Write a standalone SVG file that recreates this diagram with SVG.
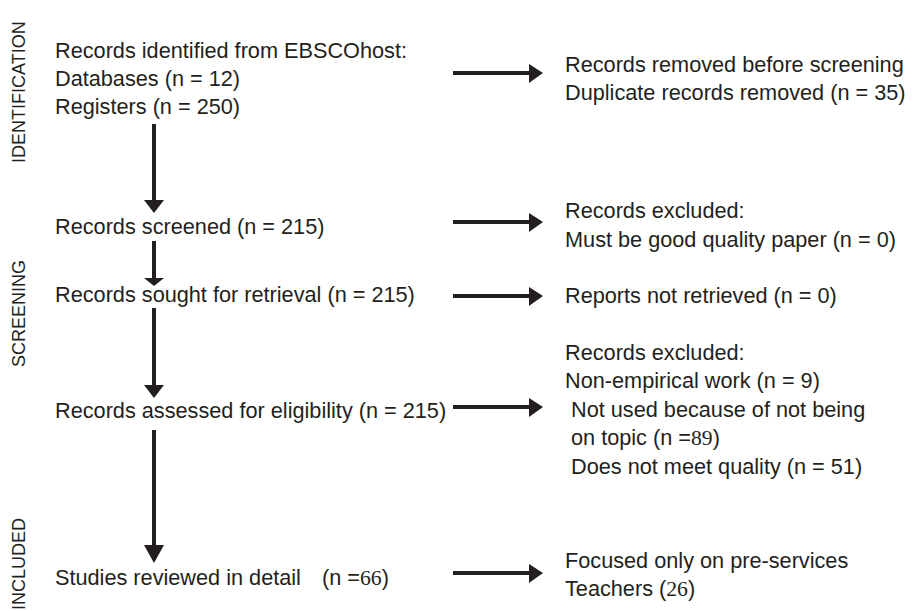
<svg xmlns="http://www.w3.org/2000/svg" width="913" height="611" viewBox="0 0 913 611">
<style>
  text { font-family: "Liberation Sans", Arial, sans-serif; font-size: 21.7px; fill: #231f20; }
  .stage { font-size: 18px; }
  .serif { font-family: "Liberation Serif", "Times New Roman", serif; }
  .shaft { stroke: #231f20; stroke-width: 4; fill: none; }
  .head { fill: #231f20; stroke: none; }
</style>
<rect width="913" height="611" fill="#ffffff"/>

<g id="stage-labels">
  <text class="stage" transform="translate(25,163) rotate(-90)">IDENTIFICATION</text>
  <text class="stage" transform="translate(25,367) rotate(-90)">SCREENING</text>
  <text class="stage" transform="translate(25,610) rotate(-90)">INCLUDED</text>
</g>

<g id="node-identified">
  <text x="55" y="58">Records identified from EBSCOhost:</text>
  <text x="55" y="86">Databases (n = 12)</text>
  <text x="55" y="114">Registers (n = 250)</text>
</g>
<g id="node-screened">
  <text x="55" y="234">Records screened (n = 215)</text>
</g>
<g id="node-sought">
  <text x="55" y="302">Records sought for retrieval (n = 215)</text>
</g>
<g id="node-assessed">
  <text x="55" y="418">Records assessed for eligibility (n = 215)</text>
</g>
<g id="node-included">
  <text x="55" y="585">Studies reviewed in detail<tspan x="322">(n =</tspan><tspan class="serif">66</tspan>)</text>
</g>

<g id="node-removed">
  <text x="565" y="72">Records removed before screening</text>
  <text x="565" y="100">Duplicate records removed (n = 35)</text>
</g>
<g id="node-excluded1">
  <text x="565" y="218">Records excluded:</text>
  <text x="565" y="247">Must be good quality paper (n = 0)</text>
</g>
<g id="node-notretrieved">
  <text x="565" y="303">Reports not retrieved (n = 0)</text>
</g>
<g id="node-excluded2">
  <text x="565" y="360">Records excluded:</text>
  <text x="565" y="388">Non-empirical work (n = 9)</text>
  <text x="571" y="417">Not used because of not being</text>
  <text x="571" y="445">on topic (n =<tspan class="serif">89</tspan>)</text>
  <text x="571" y="474">Does not meet quality (n = 51)</text>
</g>
<g id="node-preservice">
  <text x="565" y="568">Focused only on pre-services</text>
  <text x="565" y="596">Teachers (<tspan class="serif">26</tspan>)</text>
</g>

<g id="connectors">
  <line class="shaft" x1="154" y1="124" x2="154" y2="201"/>
  <polygon class="head" points="144,200 164,200 154,213"/>
  <line class="shaft" x1="154" y1="241" x2="154" y2="279"/>
  <polygon class="head" points="144,278 164,278 154,286"/>
  <line class="shaft" x1="154" y1="308" x2="154" y2="386"/>
  <polygon class="head" points="144,385 164,385 154,398"/>
  <line class="shaft" x1="154" y1="430" x2="154" y2="546"/>
  <polygon class="head" points="144,545 164,545 154,563"/>

  <line class="shaft" x1="453" y1="73" x2="530" y2="73"/>
  <polygon class="head" points="529,64 529,83 543,73"/>
  <line class="shaft" x1="453" y1="222" x2="530" y2="222"/>
  <polygon class="head" points="529,213 529,232 543,222"/>
  <line class="shaft" x1="453" y1="296" x2="530" y2="296"/>
  <polygon class="head" points="529,287 529,306 543,296"/>
  <line class="shaft" x1="453" y1="407" x2="530" y2="407"/>
  <polygon class="head" points="529,398 529,417 543,407"/>
  <line class="shaft" x1="453" y1="573" x2="530" y2="573"/>
  <polygon class="head" points="529,564 529,583 543,573"/>
</g>
</svg>
